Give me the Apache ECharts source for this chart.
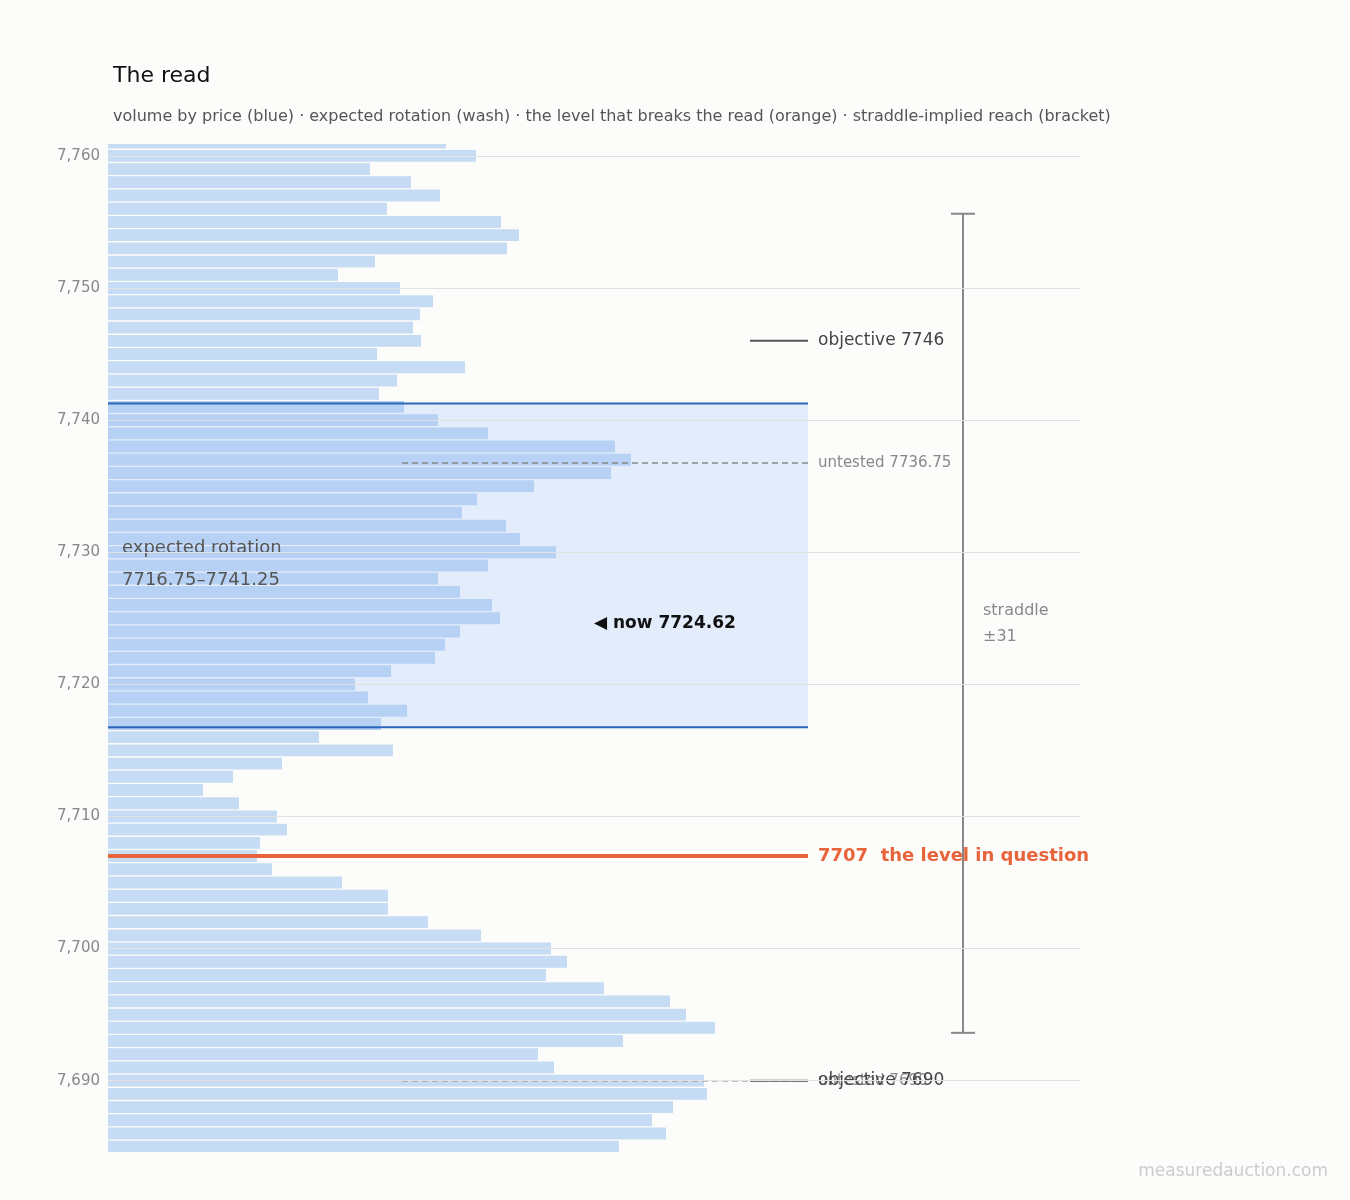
<!DOCTYPE html>
<html>
<head>
<meta charset="utf-8">
<script src="https://cdn.jsdelivr.net/npm/echarts@6/dist/echarts.min.js"></script>
<style>
  html, body { margin: 0; padding: 0; background: #fcfcfb; }
  #main { width: 1350px; height: 1200px; }
</style>
</head>
<body>
<div id="main"></div>
<script>
// price levels (top to bottom) and the volume traded at each
var prices = [];
for (var p = 7761; p >= 7685; p--) prices.push(p);
var volumes = [
  338, 368, 262, 303, 332, 279, 393, 411, 399, 267, 230, 292, 325, 312, 305, 313, 269, 357, 289, 271,
  296, 330, 380, 507, 523, 503, 426, 369, 354, 398, 412, 448, 380, 330, 352, 384, 392, 352, 337, 327,
  283, 247, 260, 299, 273, 211, 285, 174, 125, 95, 131, 169, 179, 152, 149, 164, 234, 280, 280, 320,
  373, 443, 459, 438, 496, 562, 578, 607, 515, 430, 446, 596, 599, 565, 544, 558, 511
];
var priceTicks = [7690, 7700, 7710, 7720, 7730, 7740, 7750, 7760];

var washRange = [7716.75, 7741.25];
var breakLevel = 7707;
var untestedLevels = [7736.75, 7690];
var objectiveLevels = [7746, 7690];
var nowPrice = 7724.62;
var straddleReach = 31;

var font = 'DejaVu Sans';
var chart = echarts.init(document.getElementById('main'));

var barData = prices.map(function (pr, i) { return [volumes[i], pr]; });

function renderBar(params, api) {
  var pr = api.value(1);
  var end = api.coord([api.value(0), pr]);
  var start = api.coord([0, pr]);
  var h = api.size([0, 1])[1] * 0.9;
  var inWash = pr >= washRange[0] && pr <= washRange[1];
  var rect = echarts.graphic.clipRectByRect(
    { x: start[0], y: end[1] - h / 2, width: end[0] - start[0], height: h },
    { x: params.coordSys.x, y: params.coordSys.y, width: params.coordSys.width, height: params.coordSys.height }
  );
  if (!rect) return;
  return { type: 'rect', shape: rect, style: { fill: inWash ? '#b1cdf3' : '#c6dbf4' } };
}

function renderNotes(params, api) {
  var c = function (x, y) { return api.coord([x, y]); };
  var kids = [];
  var washTop = c(0, washRange[1]), washBot = c(700, washRange[0]);
  kids.push({ type: 'rect', z2: -10, shape: { x: washTop[0], y: washTop[1], width: washBot[0] - washTop[0], height: washBot[1] - washTop[1] }, style: { fill: 'rgba(190,215,248,0.42)' } });
  washRange.forEach(function (v) {
    var a = c(0, v), b = c(700, v);
    kids.push({ type: 'line', shape: { x1: a[0], y1: a[1], x2: b[0], y2: b[1] }, style: { stroke: '#2b66b8', lineWidth: 2 } });
  });
  var t1 = c(14, 7730);
  kids.push({ type: 'text', style: { x: t1[0], y: t1[1] - 4, text: 'expected rotation', fill: '#555', font: '18px ' + font, textVerticalAlign: 'middle' } });
  kids.push({ type: 'text', style: { x: t1[0], y: t1[1] + 28, text: washRange[0] + '–' + washRange[1], fill: '#555', font: '18px ' + font, textVerticalAlign: 'middle' } });

  untestedLevels.forEach(function (v) {
    var a = c(294, v), b = c(700, v);
    kids.push({ type: 'line', shape: { x1: a[0], y1: a[1], x2: b[0], y2: b[1] }, style: { stroke: '#888', lineWidth: 1.5, lineDash: [6, 4] } });
    kids.push({ type: 'text', style: { x: b[0] + 10, y: b[1], text: 'untested ' + v, fill: '#888', font: '15px ' + font, textVerticalAlign: 'middle' } });
  });
  objectiveLevels.forEach(function (v) {
    var a = c(642, v), b = c(700, v);
    kids.push({ type: 'line', shape: { x1: a[0], y1: a[1], x2: b[0], y2: b[1] }, style: { stroke: '#555', lineWidth: 2 } });
    kids.push({ type: 'text', style: { x: b[0] + 10, y: b[1], text: 'objective ' + v, fill: '#444', font: '17px ' + font, textVerticalAlign: 'middle' } });
  });

  var o1 = c(0, breakLevel), o2 = c(700, breakLevel);
  kids.push({ type: 'line', shape: { x1: o1[0], y1: o1[1], x2: o2[0], y2: o2[1] }, style: { stroke: '#e8643a', lineWidth: 4 } });
  kids.push({ type: 'text', style: { x: o2[0] + 10, y: o2[1], text: breakLevel + '  the level in question', fill: '#e8643a', font: 'bold 18px ' + font, textVerticalAlign: 'middle' } });

  var n = c(486, nowPrice);
  kids.push({ type: 'text', style: { x: n[0], y: n[1], text: '◀ now ' + nowPrice, fill: '#111', font: 'bold 17px ' + font, textVerticalAlign: 'middle' } });

  var s1 = c(855, nowPrice + straddleReach), s2 = c(855, nowPrice - straddleReach);
  var sc = '#888';
  kids.push({ type: 'line', shape: { x1: s1[0], y1: s1[1], x2: s2[0], y2: s2[1] }, style: { stroke: sc, lineWidth: 2 } });
  kids.push({ type: 'line', shape: { x1: s1[0] - 12, y1: s1[1], x2: s1[0] + 12, y2: s1[1] }, style: { stroke: sc, lineWidth: 2 } });
  kids.push({ type: 'line', shape: { x1: s2[0] - 12, y1: s2[1], x2: s2[0] + 12, y2: s2[1] }, style: { stroke: sc, lineWidth: 2 } });
  var sm = c(875, nowPrice);
  kids.push({ type: 'text', style: { x: sm[0], y: sm[1] - 12, text: 'straddle', fill: '#888', font: '16px ' + font, textVerticalAlign: 'middle' } });
  kids.push({ type: 'text', style: { x: sm[0], y: sm[1] + 14, text: '±' + straddleReach, fill: '#888', font: '16px ' + font, textVerticalAlign: 'middle' } });
  return { type: 'group', children: kids };
}

chart.setOption({
  backgroundColor: '#fcfcfb',
  animation: false,
  textStyle: { fontFamily: font },
  title: [
    { text: 'The read', left: 108, top: 60, textStyle: { fontSize: 22, fontWeight: 'normal', color: '#111', fontFamily: font } },
    { text: 'volume by price (blue) · expected rotation (wash) · the level that breaks the read (orange) · straddle-implied reach (bracket)',
      left: 108, top: 104, textStyle: { fontSize: 16, fontWeight: 'normal', color: '#555', fontFamily: font } },
    { text: 'measuredauction.com', right: 17, bottom: 15, textStyle: { fontSize: 17, fontWeight: 'normal', color: '#ccc', fontFamily: font } }
  ],
  grid: { left: 108, right: 270, top: 144, bottom: 48 },
  xAxis: { type: 'value', min: 0, max: 972, show: false },
  yAxis: {
    type: 'value', min: 7684.6, max: 7760.9, interval: 10,
    axisLine: { show: false }, axisTick: { show: false },
    axisLabel: { color: '#888', fontSize: 15, margin: 8, customValues: priceTicks },
    axisTick: { show: false, customValues: priceTicks },
    splitLine: { show: false }
  },
  series: [
    {
      type: 'line', silent: true, data: [],
      markLine: {
        silent: true, symbol: 'none', label: { show: false },
        lineStyle: { color: '#e2e2e2', type: 'solid', width: 1 },
        data: priceTicks.map(function (v) { return { yAxis: v }; })
      },
      z: 0
    },
    { type: 'custom', renderItem: renderBar, data: barData, z: 2 },
    { type: 'custom', renderItem: renderNotes, data: [[0, 7720]], clip: false, z: 3 }
  ]
});
</script>
</body>
</html>
